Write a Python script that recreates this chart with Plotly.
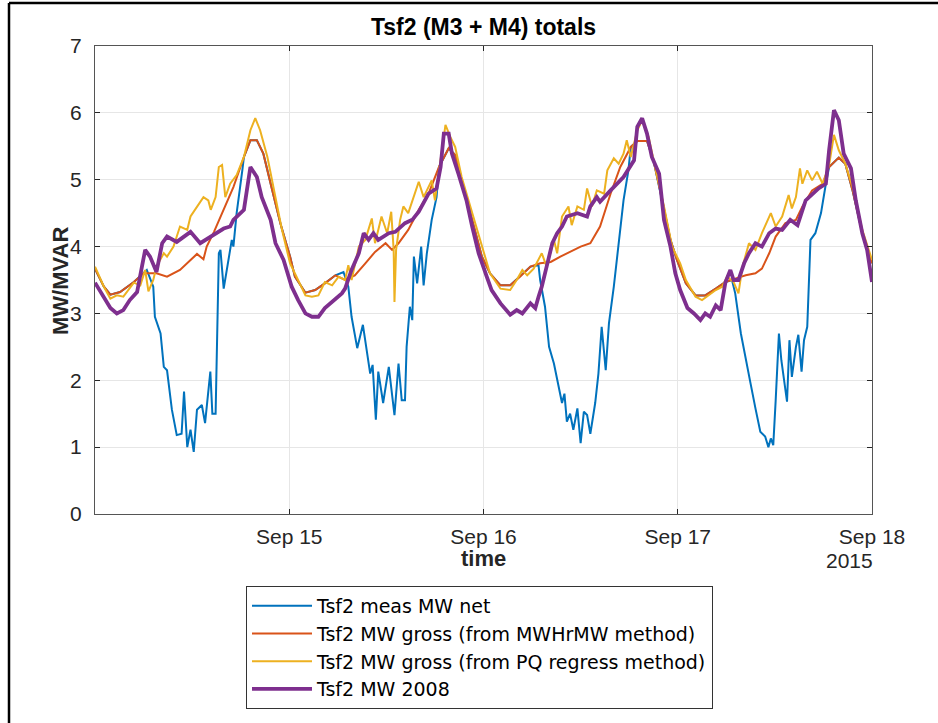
import pandas as pd
import plotly.graph_objects as go

# ---------------- data (hours since 2015-09-14 00:00, MW) ----------------
blue_h = [0, 1.1, 1.9, 3.1, 4.8, 6.0, 6.4, 7.2, 7.4, 8.1, 8.5, 8.9, 9.5, 10.1, 10.7, 11.0, 11.4, 11.8, 12.2, 12.6,
          13.2, 13.6, 13.9, 14.25, 14.5, 14.9, 15.3, 15.5, 15.9, 16.5, 16.9, 17.1, 17.5, 18.2, 18.4, 19.2, 20.0,
          20.8, 21.7, 22.9, 24.1, 24.7, 26.0, 27.2, 28.4, 29.7, 30.7, 31.3, 31.7, 32.4, 33.1, 33.6, 34.0, 34.3,
          34.7, 35.0, 35.6, 36.3, 36.7, 37.0, 37.5, 37.9, 38.3, 38.5, 38.9, 39.2, 39.4, 39.8, 40.3, 40.6, 41.0,
          41.6, 42.2, 42.5, 43.7, 44.5, 45.3, 46.6, 47.8, 48.8, 50.1, 51.3, 52.5, 53.8, 54.8, 55.0, 55.6, 56.1,
          56.7, 57.3, 57.7, 58.0, 58.3, 58.7, 59.1, 59.6, 60.0, 60.4, 60.8, 61.2, 61.8, 62.2, 62.6, 63.1, 63.5,
          64.1, 64.7, 65.3, 65.9, 66.2, 67.0, 68.2, 69.0, 70.1, 71.1, 71.9, 73.0, 74.2, 75.4, 76.7, 77.9, 78.7,
          79.1, 79.8, 80.4, 81.0, 81.6, 82.2, 82.8, 83.2, 83.5, 83.8, 84.1, 84.5, 84.8, 85.1, 85.5, 85.8, 86.1,
          86.6, 86.9, 87.3, 87.6, 88.0, 88.4, 89.0, 89.7, 90.3, 90.7, 91.9, 92.7, 93.6, 94.8, 96.0]
blue_v = [3.67, 3.40, 3.28, 3.32, 3.47, 3.60, 3.65, 3.40, 2.95, 2.70, 2.20, 2.15, 1.56, 1.18, 1.20, 1.83, 1.00, 1.26, 0.93, 1.56,
          1.63, 1.36, 1.68, 2.13, 1.50, 1.50, 3.90, 3.95, 3.37, 3.80, 4.10, 4.00, 4.50, 5.14, 5.34, 5.59, 5.59,
          5.39, 4.94, 4.35, 3.85, 3.55, 3.31, 3.35, 3.45, 3.57, 3.62, 3.40, 2.95, 2.48, 2.83, 2.40, 2.10, 2.23,
          1.41, 2.13, 1.66, 2.20, 1.80, 1.48, 2.25, 1.70, 1.70, 2.50, 3.10, 2.90, 3.85, 3.45, 4.00, 3.42, 3.90,
          4.40, 4.74, 5.19, 5.47, 5.37, 4.99, 4.40, 3.85, 3.60, 3.42, 3.42, 3.55, 3.70, 3.72, 3.50, 3.10, 2.50,
          2.25, 1.90, 1.66, 1.80, 1.38, 1.50, 1.26, 1.58, 1.06, 1.53, 1.48, 1.20, 1.66, 2.10, 2.80, 2.15, 2.85,
          3.40, 4.10, 4.69, 5.14, 5.49, 5.58, 5.58, 5.29, 4.69, 4.10, 3.80, 3.45, 3.27, 3.27, 3.37, 3.47, 3.50,
          3.30, 2.70, 2.35, 1.95, 1.58, 1.23, 1.16, 1.00, 1.13, 1.03, 1.70, 2.70, 2.30, 2.00, 1.68, 2.60, 2.05,
          2.50, 2.68, 2.13, 2.60, 2.80, 4.10, 4.20, 4.50, 4.94, 5.19, 5.33, 5.24, 4.84, 4.20, 3.75]

orange_h = [0, 1.1, 1.9, 3.1, 4.8, 6.0, 7.6, 8.9, 10.5, 11.8, 12.6, 13.4, 13.8, 14.7, 15.9, 17.1, 18.4, 19.2, 20.0,
            20.8, 21.7, 22.9, 24.1, 24.7, 26.0, 27.2, 28.4, 29.7, 30.9, 32.1, 33.4, 34.6, 35.9, 36.7, 37.5, 38.7,
            40.0, 41.2, 42.5, 43.7, 44.5, 45.3, 46.6, 47.8, 48.8, 50.1, 51.3, 52.5, 53.8, 55.0, 56.3, 57.5, 58.7,
            60.0, 61.2, 62.4, 63.7, 64.9, 66.2, 67.0, 68.2, 69.0, 70.1, 71.1, 71.9, 73.0, 74.2, 75.4, 76.7, 77.9,
            79.1, 80.4, 81.6, 82.4, 83.3, 84.1, 85.3, 86.6, 87.4, 88.6, 89.9, 90.7, 91.9, 92.7, 93.6, 94.8, 96.0]
orange_v = [3.67, 3.40, 3.28, 3.32, 3.47, 3.60, 3.60, 3.55, 3.65, 3.80, 3.89, 3.81, 4.00, 4.22, 4.55, 4.89, 5.34, 5.59, 5.59,
            5.39, 4.94, 4.35, 3.85, 3.55, 3.31, 3.35, 3.45, 3.57, 3.50, 3.57, 3.75, 3.92, 4.05, 3.95, 4.05, 4.25,
            4.55, 4.79, 5.19, 5.47, 5.37, 4.99, 4.40, 3.85, 3.60, 3.42, 3.42, 3.55, 3.70, 3.75, 3.77, 3.85, 3.92,
            4.00, 4.05, 4.30, 4.79, 5.19, 5.49, 5.58, 5.58, 5.29, 4.69, 4.10, 3.80, 3.45, 3.27, 3.27, 3.37, 3.47,
            3.52, 3.57, 3.60, 3.67, 3.90, 4.15, 4.35, 4.40, 4.60, 4.84, 4.94, 5.19, 5.33, 5.24, 4.84, 4.20, 3.75]

yellow_h = [0, 1.1, 1.9, 2.7, 3.5, 4.8, 5.6, 6.2, 6.6, 7.2, 7.6, 8.5, 8.9, 9.7, 10.5, 11.4, 11.8, 12.6, 13.4, 14.0,
            14.3, 14.9, 15.3, 15.7, 16.1, 16.7, 17.5, 18.4, 19.2, 19.8, 20.4, 21.3, 22.1, 23.1, 24.1,
            24.7, 26.0, 26.8, 27.6, 28.4, 29.3, 30.1, 30.9, 31.3, 31.7, 32.6, 33.4, 34.2, 34.6, 35.4, 36.1, 36.6,
            36.9, 37.0, 37.2, 37.7, 38.1, 38.7, 39.4, 40.0, 40.6, 41.6, 42.0, 42.7, 43.3, 43.9, 44.5, 45.3, 46.6,
            47.8, 48.8, 50.1, 51.3, 52.1, 52.8, 53.4, 54.2, 55.2, 55.8, 56.7, 57.1, 57.7, 58.5, 58.9, 59.6, 60.4,
            60.8, 61.4, 62.0, 62.9, 63.3, 64.1, 64.7, 65.3, 65.7, 66.2, 67.0, 67.6, 68.4, 69.2, 70.3, 71.3, 72.3,
            73.0, 74.2, 75.0, 75.8, 76.7, 77.5, 78.1, 78.9, 79.5, 80.0, 80.8, 81.6, 82.4, 83.5, 84.1, 84.9, 85.7,
            86.1, 86.6, 87.1, 87.4, 88.0, 88.6, 89.2, 89.9, 90.7, 91.3, 91.9, 92.7, 93.6, 94.8, 96.0]
yellow_v = [3.70, 3.40, 3.22, 3.27, 3.25, 3.46, 3.42, 3.65, 3.33, 3.50, 3.70, 3.90, 3.85, 4.00, 4.30, 4.25, 4.45, 4.60, 4.74, 4.69,
            4.55, 4.74, 5.19, 5.22, 4.74, 4.94, 5.07, 5.34, 5.74, 5.92, 5.74, 5.34, 4.84, 4.25, 3.75,
            3.60, 3.27, 3.25, 3.27, 3.47, 3.42, 3.55, 3.50, 3.72, 3.50, 4.00, 4.10, 4.42, 4.05, 4.45, 4.20, 4.52,
            3.95, 3.17, 3.95, 4.40, 4.60, 4.50, 4.74, 4.97, 4.74, 4.99, 4.69, 5.29, 5.82, 5.64, 5.49, 5.04, 4.50,
            4.00, 3.60, 3.37, 3.35, 3.50, 3.65, 3.57, 3.67, 3.90, 3.70, 4.10, 3.90, 4.45, 4.60, 4.32, 4.60, 4.55,
            4.87, 4.60, 4.84, 4.79, 5.14, 5.32, 5.24, 5.39, 5.59, 5.34, 5.74, 5.89, 5.64, 5.19, 4.60, 4.00, 3.75,
            3.50, 3.25, 3.20, 3.27, 3.35, 3.40, 3.55, 3.47, 3.30, 3.70, 4.05, 3.95, 4.20, 4.50, 4.30, 4.45, 4.77,
            4.57, 4.74, 5.17, 4.94, 5.14, 4.99, 5.12, 4.94, 5.22, 5.67, 5.44, 5.24, 4.89, 4.25, 3.80]

purple_h = [0, 1.1, 1.9, 2.7, 3.5, 4.3, 5.2, 5.8, 6.2, 6.8, 7.6, 8.3, 8.9, 10.1, 11.8, 13.0, 14.3, 15.9, 16.7, 17.1,
            18.4, 19.2, 20.0, 20.6, 21.7, 22.3, 23.3, 24.3, 25.1, 26.0, 26.8, 27.6, 28.4, 29.5, 30.5, 30.9, 31.7,
            32.6, 33.2, 33.8, 34.4, 35.0, 36.3, 37.1, 38.3, 39.2, 40.0, 41.2, 42.2, 42.7, 43.1, 43.7, 44.1, 44.9,
            45.9, 46.6, 47.4, 48.4, 49.0, 50.1, 51.3, 52.1, 52.8, 53.8, 54.4, 54.8, 55.2, 55.8, 56.5, 57.1, 57.7,
            58.3, 59.6, 60.8, 61.2, 62.0, 62.4, 63.7, 65.3, 66.6, 67.0, 67.6, 68.2, 68.8, 69.7, 70.3, 71.1, 71.7,
            72.3, 73.2, 74.0, 74.8, 75.4, 76.0, 76.7, 77.3, 77.9, 78.5, 78.9, 79.5, 80.2, 80.8, 81.6, 82.4, 83.3,
            84.1, 84.9, 85.9, 86.8, 87.8, 88.6, 89.4, 90.3, 90.7, 91.3, 91.9, 92.5, 93.4, 94.0, 94.8, 95.4, 96.0]
purple_v = [3.46, 3.25, 3.08, 3.00, 3.05, 3.20, 3.32, 3.70, 3.95, 3.85, 3.62, 4.05, 4.15, 4.07, 4.22, 4.05, 4.15, 4.27, 4.30, 4.40,
            4.55, 5.19, 5.04, 4.74, 4.40, 4.05, 3.80, 3.40, 3.20, 3.00, 2.95, 2.95, 3.08, 3.20, 3.30, 3.37, 3.65,
            3.90, 4.20, 4.10, 4.20, 4.10, 4.20, 4.22, 4.35, 4.40, 4.52, 4.79, 4.87, 5.19, 5.69, 5.69, 5.39, 5.09,
            4.69, 4.30, 3.90, 3.55, 3.35, 3.15, 2.98, 3.05, 3.00, 3.15, 3.08, 3.25, 3.40, 3.70, 4.05, 4.20, 4.30,
            4.45, 4.50, 4.45, 4.60, 4.74, 4.67, 4.84, 5.04, 5.29, 5.79, 5.92, 5.69, 5.34, 5.09, 4.40, 4.00, 3.60,
            3.35, 3.08, 3.00, 2.90, 3.00, 2.95, 3.12, 3.05, 3.47, 3.65, 3.50, 3.50, 3.75, 3.90, 4.05, 4.00, 4.20,
            4.27, 4.25, 4.40, 4.32, 4.69, 4.79, 4.87, 4.94, 5.44, 6.04, 5.89, 5.39, 5.17, 4.69, 4.20, 3.95, 3.47]

series_names = ["Tsf2 meas MW net",
                "Tsf2 MW gross (from MWHrMW method)",
                "Tsf2 MW gross (from PQ regress method)",
                "Tsf2 MW 2008"]
series_colors = ["#0072BD", "#D95319", "#EDB120", "#7E2F8E"]
series_widths = [2, 2, 2, 3.8]

start = pd.Timestamp("2015-09-14 00:00")
tick_dates = ["2015-09-15", "2015-09-16", "2015-09-17", "2015-09-18"]
tick_labels = ["Sep 15", "Sep 16", "Sep 17", "Sep 18"]

def to_time(hours):
    return start + pd.to_timedelta(hours, unit="h")

FONT = "Liberation Sans, Arial, sans-serif"
LEGEND_FONT = "DejaVu Sans, Liberation Sans, Arial, sans-serif"

fig = go.Figure()
for h, v, name, col, w in zip([blue_h, orange_h, yellow_h, purple_h],
                              [blue_v, orange_v, yellow_v, purple_v],
                              series_names, series_colors, series_widths):
    fig.add_trace(go.Scatter(x=to_time(h), y=v, mode="lines", name=name,
                             line=dict(color=col, width=w)))

# plot area in pixels: left 95, right 872, top 46, bottom 514
def px_x(px):
    return (px - 95) / 777.0

def px_y(py):
    return (514 - py) / 468.0

fig.update_layout(
    width=938, height=723,
    margin=dict(l=95, r=66, t=46, b=209, autoexpand=False),
    paper_bgcolor="white", plot_bgcolor="white",
    font=dict(family=FONT, color="#262626", size=20),
    showlegend=True,
    legend=dict(x=px_x(246), y=px_y(586), xanchor="left", yanchor="top",
                xref="paper", yref="paper",
                bgcolor="white", bordercolor="#333333", borderwidth=1,
                font=dict(family=LEGEND_FONT, size=19, color="#000000"),
                itemwidth=60, tracegroupgap=0),
    title=dict(text="<b>Tsf2 (M3 + M4) totals</b>", x=0.5, xref="paper", xanchor="center",
               y=1 - 27 / 723, yref="container", yanchor="middle",
               font=dict(family=FONT, size=23, color="#000000")),
)

fig.update_xaxes(
    type="date", range=[start, pd.Timestamp("2015-09-18 00:00")],
    tickmode="array", tickvals=tick_dates, ticktext=tick_labels,
    ticks="inside", ticklen=5, tickcolor="#262626", tickwidth=1,
    showline=True, linecolor="#555555", linewidth=1, mirror="ticks",
    showgrid=True, gridcolor="#e6e6e6", gridwidth=1,
    zeroline=False, tickfont=dict(family=FONT, size=21, color="#262626"),
    ticklabelstandoff=4,
)
fig.update_yaxes(
    range=[0, 7], tickmode="linear", tick0=0, dtick=1,
    ticks="inside", ticklen=5, tickcolor="#262626", tickwidth=1,
    showline=True, linecolor="#555555", linewidth=1, mirror="ticks",
    showgrid=True, gridcolor="#e6e6e6", gridwidth=1,
    zeroline=False, tickfont=dict(family=FONT, size=21, color="#262626"),
    ticklabelstandoff=8,
)

fig.add_annotation(text="<b>time</b>", x=0.5, y=px_y(558), xref="paper", yref="paper",
                   showarrow=False, xanchor="center", yanchor="middle",
                   font=dict(family=FONT, size=22, color="#262626"))
fig.add_annotation(text="2015", x=px_x(849), y=px_y(560), xref="paper", yref="paper",
                   showarrow=False, xanchor="center", yanchor="middle",
                   font=dict(family=FONT, size=21, color="#262626"))
fig.add_annotation(text="<b>MW/MVAR</b>", x=px_x(60), y=px_y(281), xref="paper", yref="paper",
                   showarrow=False, textangle=-90, xanchor="center", yanchor="middle",
                   font=dict(family=FONT, size=22, color="#262626"))

# outer figure frame (left and top edges)
fig.add_shape(type="line", xref="paper", yref="paper",
              x0=px_x(9), x1=px_x(9), y0=px_y(3), y1=px_y(723),
              line=dict(color="black", width=2.5))
fig.add_shape(type="line", xref="paper", yref="paper",
              x0=px_x(9), x1=px_x(938), y0=px_y(3), y1=px_y(3),
              line=dict(color="black", width=2.5))

fig.write_html("out.html")
